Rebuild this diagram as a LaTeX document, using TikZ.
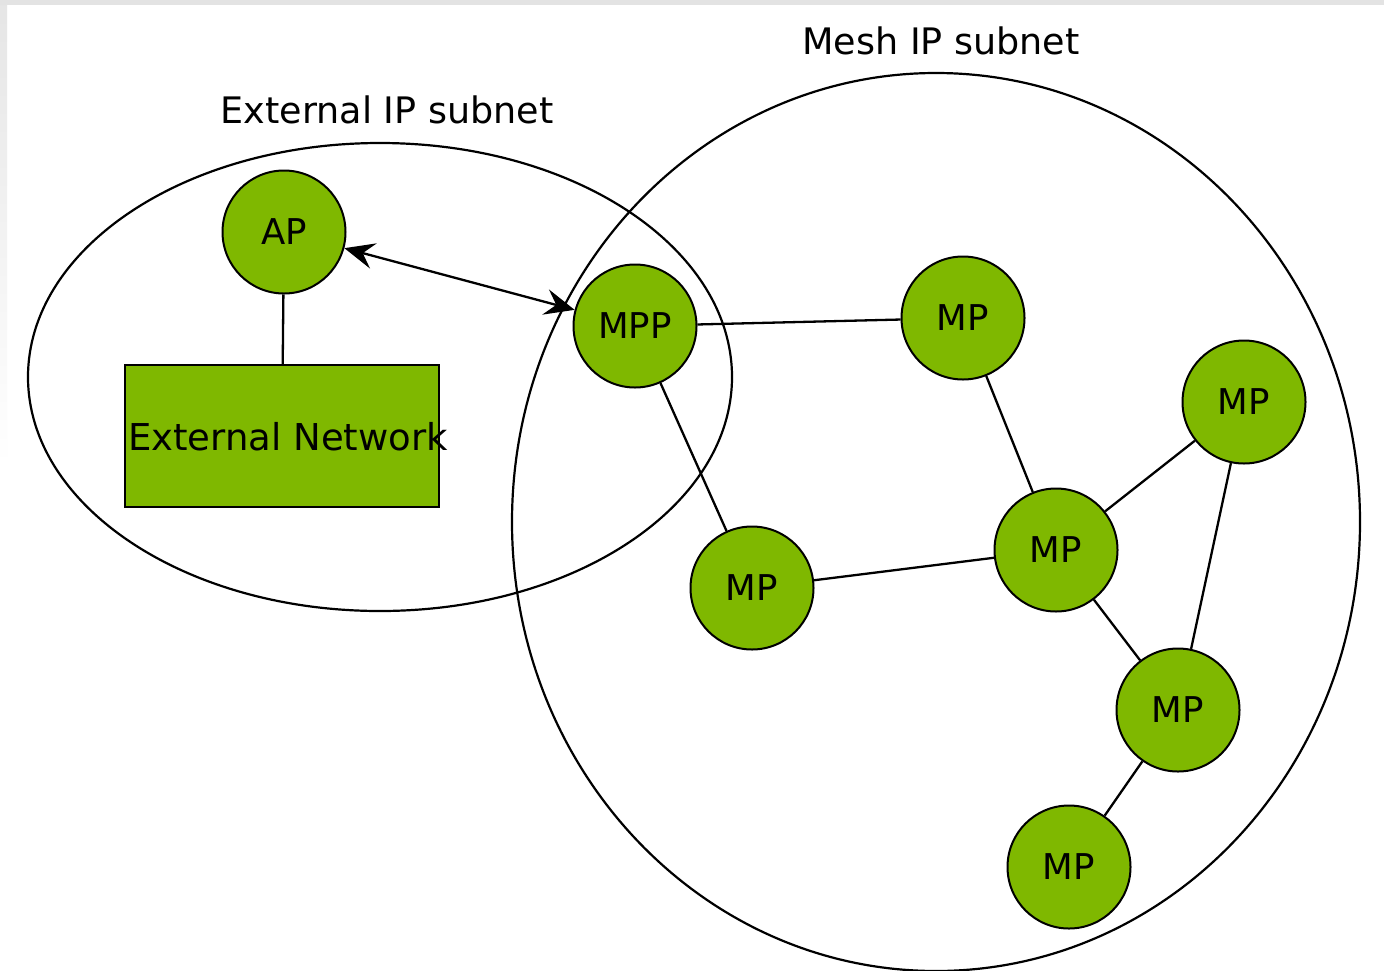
\documentclass[tikz,border=0pt]{standalone}
\usepackage{fontspec}
\setmainfont{DejaVu Sans}
\usetikzlibrary{arrows.meta}
\definecolor{nodegreen}{RGB}{127,184,0}
\tikzset{
  mp/.style={circle, draw=black, line width=2pt, fill=nodegreen, minimum size=123pt, inner sep=0pt, font=\fontsize{35.5}{40}\selectfont},
  netbox/.style={rectangle, draw=black, line width=2.2pt, fill=nodegreen, minimum width=314pt, minimum height=142pt, inner sep=0pt},
  subnet/.style={draw=black, line width=2.2pt},
  link/.style={draw=black, line width=2.3pt},
  title/.style={font=\fontsize{36.5}{40}\selectfont, inner sep=0pt},
}
\begin{document}
\begin{tikzpicture}[x=1pt,y=-1pt]
\useasboundingbox (0,0) rectangle (1384,970);
\fill[white] (0,0) rectangle (1384,970);
\fill[gray!22] (0,0) rectangle (1384,5);
\shade[top color=gray!20, bottom color=white] (0,5) rectangle (7,465);
% subnets
\draw[subnet] (380,377) ellipse [x radius=352, y radius=234];
\draw[subnet] (936,522) ellipse [x radius=424, y radius=449];
\node[title] (exttitle) at (387,110) {External IP subnet};
\node[title] (meshtitle) at (941,41) {Mesh IP subnet};
% nodes
\node[mp] (ap) at (284,232) {AP};
\node[netbox] (ext) at (282,436) {};
\node[font=\fontsize{37}{40}\selectfont, inner sep=0pt] (extlabel) at (288,437) {External Network};
\node[mp] (mpp) at (635,326) {MPP};
\node[mp] (mp1) at (963,318) {MP};
\node[mp] (mp2) at (1244,402) {MP};
\node[mp] (mp3) at (1056,550) {MP};
\node[mp] (mp4) at (752,588) {MP};
\node[mp] (mp5) at (1178,710) {MP};
\node[mp] (mp6) at (1069,867) {MP};
% links
\draw[link] (ap) -- (ext);
\draw[link, {Stealth[length=30pt,width=26pt,inset=11pt]}-{Stealth[length=30pt,width=26pt,inset=11pt]}] (ap) -- (mpp);
\draw[link] (mpp) -- (mp1);
\draw[link] (mpp) -- (mp4);
\draw[link] (mp1) -- (mp3);
\draw[link] (mp2) -- (mp3);
\draw[link] (mp2) -- (mp5);
\draw[link] (mp4) -- (mp3);
\draw[link] (mp3) -- (mp5);
\draw[link] (mp5) -- (mp6);
\end{tikzpicture}
\end{document}
